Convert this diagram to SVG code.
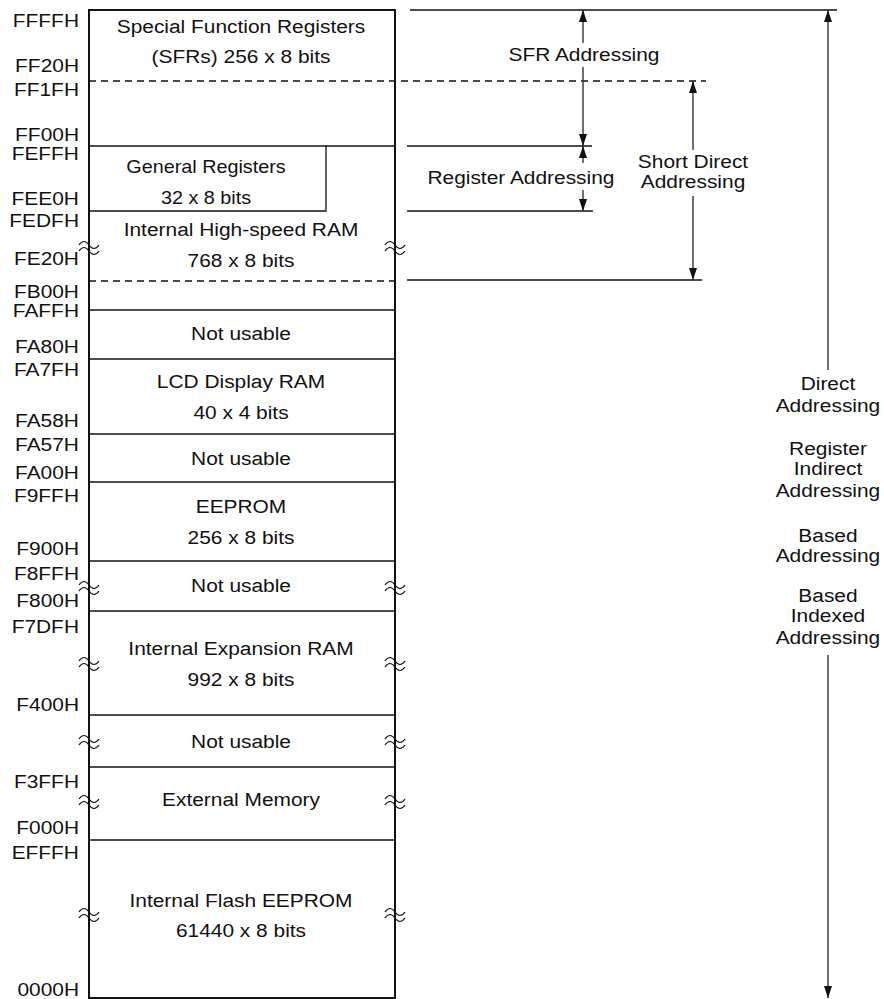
<svg xmlns="http://www.w3.org/2000/svg" width="884" height="999" viewBox="0 0 884 999">
<style>
text{font-family:"Liberation Sans",Arial,sans-serif;font-size:19px;fill:#111}
.l{text-anchor:end}
.c{text-anchor:middle}
.sm{font-size:18px}
.box{fill:none;stroke:#111;stroke-width:2}
.ln{stroke:#111;stroke-width:1.3;fill:none}
.ds{stroke:#111;stroke-width:1.3;stroke-dasharray:7 5;fill:none}
.br{stroke:#111;stroke-width:1.2;fill:none}
.ar{stroke:#333;stroke-width:1.4;fill:none;marker-end:url(#ah)}
</style>
<defs>
<marker id="ah" markerUnits="userSpaceOnUse" markerWidth="12" markerHeight="8" refX="12" refY="4" orient="auto">
<path d="M0,0 L12,4 L0,8 z" fill="#111"/>
</marker>
<path id="brk" d="M-10,-2 q5,-7 10,0 t10,0 M-10,4 q5,-7 10,0 t10,0" class="br"/>
</defs>
<rect width="884" height="999" fill="#fff"/>

<g id="memory-frame">
<rect class="box" x="89" y="10" width="306" height="988"/>
</g>

<g id="sfr">
<text class="c" x="219.1" y="33" transform="scale(1.1,1)">Special Function Registers</text>
<text class="c" x="219.1" y="63" transform="scale(1.1,1)">(SFRs) 256 x 8 bits</text>
<line class="ds" x1="89" y1="81" x2="706" y2="81"/>
<line class="ln" x1="89" y1="146" x2="395" y2="146"/>
</g>

<g id="general-registers">
<path class="ln" d="M326,146 V211 H89"/>
<text class="c sm" x="187.3" y="173" transform="scale(1.1,1)">General Registers</text>
<text class="c sm" x="187.3" y="204" transform="scale(1.1,1)">32 x 8 bits</text>
</g>

<g id="high-speed-ram">
<text class="c" x="219.1" y="236" transform="scale(1.1,1)">Internal High-speed RAM</text>
<text class="c" x="219.1" y="267" transform="scale(1.1,1)">768 x 8 bits</text>
<line class="ds" x1="89" y1="281" x2="395" y2="281"/>
<line class="ln" x1="89" y1="310" x2="395" y2="310"/>
</g>

<g id="not-usable-1">
<text class="c" x="219.1" y="340" transform="scale(1.1,1)">Not usable</text>
<line class="ln" x1="89" y1="359" x2="395" y2="359"/>
</g>

<g id="lcd-ram">
<text class="c" x="219.1" y="388" transform="scale(1.1,1)">LCD Display RAM</text>
<text class="c" x="219.1" y="419" transform="scale(1.1,1)">40 x 4 bits</text>
<line class="ln" x1="89" y1="434" x2="395" y2="434"/>
</g>

<g id="not-usable-2">
<text class="c" x="219.1" y="465" transform="scale(1.1,1)">Not usable</text>
<line class="ln" x1="89" y1="482" x2="395" y2="482"/>
</g>

<g id="eeprom">
<text class="c" x="219.1" y="513" transform="scale(1.1,1)">EEPROM</text>
<text class="c" x="219.1" y="544" transform="scale(1.1,1)">256 x 8 bits</text>
<line class="ln" x1="89" y1="561" x2="395" y2="561"/>
</g>

<g id="not-usable-3">
<text class="c" x="219.1" y="592" transform="scale(1.1,1)">Not usable</text>
<line class="ln" x1="89" y1="611" x2="395" y2="611"/>
</g>

<g id="expansion-ram">
<text class="c" x="219.1" y="655" transform="scale(1.1,1)">Internal Expansion RAM</text>
<text class="c" x="219.1" y="686" transform="scale(1.1,1)">992 x 8 bits</text>
<line class="ln" x1="89" y1="715" x2="395" y2="715"/>
</g>

<g id="not-usable-4">
<text class="c" x="219.1" y="748" transform="scale(1.1,1)">Not usable</text>
<line class="ln" x1="89" y1="767" x2="395" y2="767"/>
</g>

<g id="external-memory">
<text class="c" x="219.1" y="806" transform="scale(1.1,1)">External Memory</text>
<line class="ln" x1="89" y1="840" x2="395" y2="840"/>
</g>

<g id="flash">
<text class="c" x="219.1" y="907" transform="scale(1.1,1)">Internal Flash EEPROM</text>
<text class="c" x="219.1" y="937" transform="scale(1.1,1)">61440 x 8 bits</text>
</g>

<g id="break-marks">
<use href="#brk" x="89" y="247"/><use href="#brk" x="395" y="247"/>
<use href="#brk" x="89" y="587"/><use href="#brk" x="395" y="587"/>
<use href="#brk" x="89" y="663"/><use href="#brk" x="395" y="663"/>
<use href="#brk" x="89" y="741"/><use href="#brk" x="395" y="741"/>
<use href="#brk" x="89" y="801"/><use href="#brk" x="395" y="801"/>
<use href="#brk" x="89" y="914"/><use href="#brk" x="395" y="914"/>
</g>

<g id="addresses">
<text class="l" x="71.8" y="27" transform="scale(1.1,1)">FFFFH</text>
<text class="l" x="71.8" y="72" transform="scale(1.1,1)">FF20H</text>
<text class="l" x="71.8" y="96" transform="scale(1.1,1)">FF1FH</text>
<text class="l" x="71.8" y="141" transform="scale(1.1,1)">FF00H</text>
<text class="l" x="71.8" y="160" transform="scale(1.1,1)">FEFFH</text>
<text class="l" x="71.8" y="205" transform="scale(1.1,1)">FEE0H</text>
<text class="l" x="71.8" y="227" transform="scale(1.1,1)">FEDFH</text>
<text class="l" x="71.8" y="265" transform="scale(1.1,1)">FE20H</text>
<text class="l" x="71.8" y="298" transform="scale(1.1,1)">FB00H</text>
<text class="l" x="71.8" y="317" transform="scale(1.1,1)">FAFFH</text>
<text class="l" x="71.8" y="353" transform="scale(1.1,1)">FA80H</text>
<text class="l" x="71.8" y="376" transform="scale(1.1,1)">FA7FH</text>
<text class="l" x="71.8" y="427" transform="scale(1.1,1)">FA58H</text>
<text class="l" x="71.8" y="451" transform="scale(1.1,1)">FA57H</text>
<text class="l" x="71.8" y="479" transform="scale(1.1,1)">FA00H</text>
<text class="l" x="71.8" y="502" transform="scale(1.1,1)">F9FFH</text>
<text class="l" x="71.8" y="555" transform="scale(1.1,1)">F900H</text>
<text class="l" x="71.8" y="580" transform="scale(1.1,1)">F8FFH</text>
<text class="l" x="71.8" y="607" transform="scale(1.1,1)">F800H</text>
<text class="l" x="71.8" y="633" transform="scale(1.1,1)">F7DFH</text>
<text class="l" x="71.8" y="711" transform="scale(1.1,1)">F400H</text>
<text class="l" x="71.8" y="788" transform="scale(1.1,1)">F3FFH</text>
<text class="l" x="71.8" y="834" transform="scale(1.1,1)">F000H</text>
<text class="l" x="71.8" y="859" transform="scale(1.1,1)">EFFFH</text>
<text class="l" x="71.8" y="996" transform="scale(1.1,1)">0000H</text>
</g>

<g id="extension-lines">
<line class="ln" x1="410" y1="10" x2="837" y2="10"/>
<line class="ln" x1="407" y1="146" x2="592" y2="146"/>
<line class="ln" x1="407" y1="211" x2="593" y2="211"/>
<line class="ln" x1="407" y1="280" x2="702" y2="280"/>
</g>

<g id="connectors">
<line class="ar" x1="583" y1="43" x2="583" y2="10"/>
<line class="ar" x1="583" y1="67" x2="583" y2="146"/>
<line class="ar" x1="583" y1="163" x2="583" y2="146"/>
<line class="ar" x1="583" y1="190" x2="583" y2="211"/>
<line class="ar" x1="693" y1="150" x2="693" y2="81"/>
<line class="ar" x1="693" y1="196" x2="693" y2="280"/>
<line class="ar" x1="828" y1="370" x2="828" y2="10"/>
<line class="ar" x1="828" y1="655" x2="828" y2="998"/>
</g>

<g id="sfr-addressing">
<text class="c" x="530.9" y="61" transform="scale(1.1,1)">SFR Addressing</text>
</g>
<g id="register-addressing">
<text class="c" x="473.6" y="184" transform="scale(1.1,1)">Register Addressing</text>
</g>
<g id="short-direct-addressing">
<text class="c" x="630" y="168" transform="scale(1.1,1)">Short Direct</text>
<text class="c" x="630" y="188" transform="scale(1.1,1)">Addressing</text>
</g>
<g id="direct-addressing">
<text class="c" x="752.7" y="390" transform="scale(1.1,1)">Direct</text>
<text class="c" x="752.7" y="412" transform="scale(1.1,1)">Addressing</text>
<text class="c" x="752.7" y="455" transform="scale(1.1,1)">Register</text>
<text class="c" x="752.7" y="475" transform="scale(1.1,1)">Indirect</text>
<text class="c" x="752.7" y="497" transform="scale(1.1,1)">Addressing</text>
<text class="c" x="752.7" y="542" transform="scale(1.1,1)">Based</text>
<text class="c" x="752.7" y="562" transform="scale(1.1,1)">Addressing</text>
<text class="c" x="752.7" y="602" transform="scale(1.1,1)">Based</text>
<text class="c" x="752.7" y="622" transform="scale(1.1,1)">Indexed</text>
<text class="c" x="752.7" y="644" transform="scale(1.1,1)">Addressing</text>
</g>
</svg>
